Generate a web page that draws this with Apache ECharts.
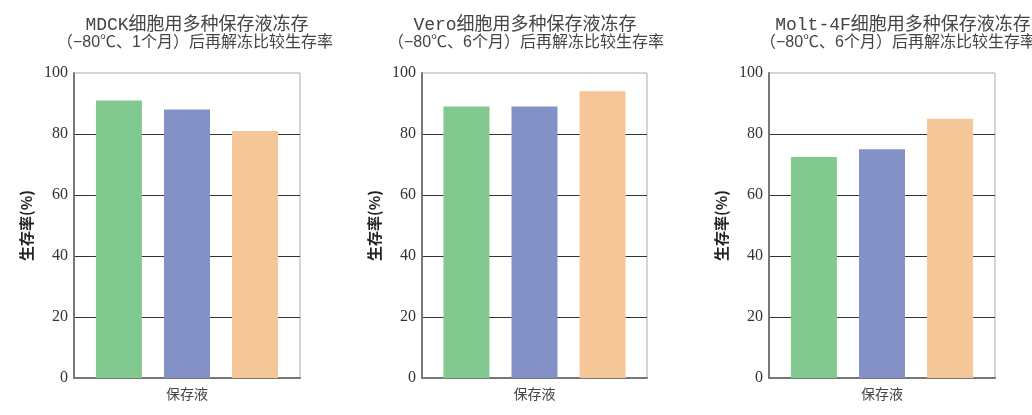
<!DOCTYPE html>
<html>
<head>
<meta charset="utf-8">
<script src="https://cdn.jsdelivr.net/npm/echarts@6/dist/echarts.min.js"></script>
<style>
html,body{margin:0;padding:0;background:#fff;}
#chart{width:1032px;height:415px;}
</style>
</head>
<body>
<div id="chart"></div>
<script>
// ---- data ----
const categories = ['保存液'];
const solutionNames = ['保存液A', '保存液B', '保存液C'];
const mdckValues = [91, 88, 81];
const veroValues = [89, 89, 94];
const moltValues = [72.5, 75, 85];
const yTicks = [0, 20, 40, 60, 80, 100];
const titleLine1 = ['MDCK细胞用多种保存液冻存', 'Vero细胞用多种保存液冻存', 'Molt-4F细胞用多种保存液冻存'];
const titleLine2 = ['（−80℃、1个月）后再解冻比较生存率', '（−80℃、6个月）后再解冻比较生存率', '（−80℃、6个月）后再解冻比较生存率'];
const yAxisName = '生存率(%)';
const colors = ['#82C98F', '#8491C6', '#F5C697'];

// ---- layout ----
const grids = [
  {left: 74, top: 73, width: 226, height: 305},
  {left: 422, top: 73, width: 225, height: 305},
  {left: 769, top: 73, width: 226, height: 305}
];
const titleCenters1 = [192, 520, 898];
const titleCenters2 = [190, 521, 893];
const allValues = [mdckValues, veroValues, moltValues];

const titles = [];
for (let i = 0; i < 3; i++) {
  titles.push({
    text: titleLine1[i], left: titleCenters1[i], top: 11, textAlign: 'center',
    textStyle: {fontSize: 18, fontWeight: 'normal', color: '#444',
      fontFamily: "'Liberation Mono','Noto Sans CJK SC',monospace"}
  });
  titles.push({
    text: titleLine2[i], left: titleCenters2[i], top: 30, textAlign: 'center',
    textStyle: {fontSize: 16, fontWeight: 'normal', color: '#444',
      fontFamily: "'Liberation Sans','Noto Sans CJK SC',sans-serif"}
  });
}

const xAxes = [], yAxes = [], series = [];
for (let i = 0; i < 3; i++) {
  xAxes.push({
    type: 'category', gridIndex: i, data: categories,
    axisLine: {show: true, lineStyle: {color: '#777', width: 2}},
    axisTick: {show: false},
    axisLabel: {color: '#444', fontSize: 14, margin: 9,
      fontFamily: "'Noto Sans CJK SC',sans-serif"},
    splitLine: {show: false}
  });
  yAxes.push({
    type: 'value', gridIndex: i, min: yTicks[0], max: yTicks[yTicks.length - 1], interval: 20,
    name: yAxisName, nameLocation: 'middle', nameGap: 40, nameRotate: 90,
    nameTextStyle: {fontSize: 15, fontWeight: 'bold', color: '#222',
      fontFamily: "'Noto Sans CJK SC',sans-serif"},
    axisLine: {show: true, lineStyle: {color: '#777', width: 2}},
    axisTick: {show: false},
    axisLabel: {color: '#333', fontSize: 16, margin: 6,
      fontFamily: "'Liberation Serif',serif"},
    splitLine: {show: true, showMinLine: false, showMaxLine: false,
      lineStyle: {color: '#333', width: 1}}
  });
  for (let s = 0; s < 3; s++) {
    series.push({
      type: 'bar', name: solutionNames[s], xAxisIndex: i, yAxisIndex: i,
      data: [allValues[i][s]], barWidth: 46, barGap: '48%',
      itemStyle: {color: colors[s]}, silent: true
    });
  }
}

const chart = echarts.init(document.getElementById('chart'));
chart.setOption({
  animation: false,
  backgroundColor: '#fff',
  title: titles,
  grid: grids.map(g => Object.assign({show: true, borderColor: '#aaa', borderWidth: 1, backgroundColor: 'transparent'}, g)),
  xAxis: xAxes,
  yAxis: yAxes,
  series: series
});
</script>
</body>
</html>
